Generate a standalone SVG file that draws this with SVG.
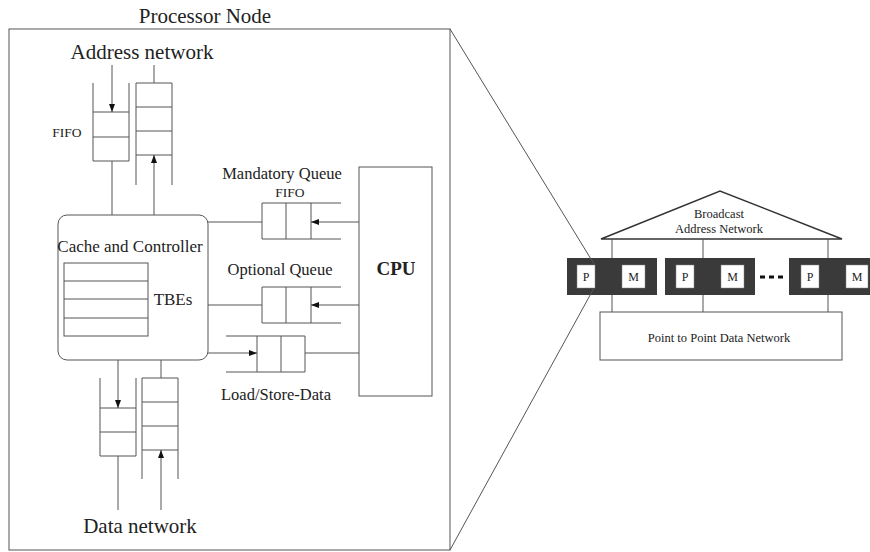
<svg xmlns="http://www.w3.org/2000/svg" width="870" height="552" viewBox="0 0 870 552">
<style>
.ln{stroke:#555;stroke-width:1;fill:none}
.bx{stroke:#555;stroke-width:1;fill:#fff}
.t{font-family:"Liberation Serif","Times New Roman",serif;fill:#222}
.blk{fill:#3a3a3a}
.pm{fill:#fff;stroke:#888;stroke-width:0.5}
</style>
<defs>
<marker id="ah" markerWidth="8" markerHeight="6" refX="8" refY="3" orient="auto" markerUnits="userSpaceOnUse">
<path d="M0,0 L8,3 L0,6 z" fill="#111"/>
</marker>
</defs>
<rect width="870" height="552" fill="#fff"/>

<g id="processor-node">
<rect class="ln" x="9" y="29" width="441" height="521"/>
<text class="t" x="205" y="23" font-size="21" text-anchor="middle">Processor Node</text>
<text class="t" x="142" y="59" font-size="21" text-anchor="middle">Address network</text>
<text class="t" x="140" y="533" font-size="21" text-anchor="middle">Data network</text>
</g>

<g id="addr-in-fifo">
<path class="ln" d="M93,83 V161 H129 V83 M93,112 H129 M93,137 H129"/>
<text class="t" x="67" y="137" font-size="13.5" text-anchor="middle">FIFO</text>
</g>
<g id="addr-out-fifo">
<path class="ln" d="M136,185 V83 H172 V185 M136,107 H172 M136,131 H172 M136,155 H172"/>
</g>

<g id="cache-controller">
<rect class="bx" x="58" y="215" width="150" height="145" rx="9"/>
<text class="t" x="130" y="252" font-size="17" text-anchor="middle">Cache and Controller</text>
<rect class="ln" x="64" y="263" width="84" height="73"/>
<path class="ln" d="M64,281 H148 M64,299 H148 M64,318 H148"/>
<text class="t" x="173" y="305" font-size="17" text-anchor="middle">TBEs</text>
</g>

<g id="mandatory-queue">
<path class="ln" d="M341,203 H262 V239 H341 M286,203 V239 M311,203 V239"/>
<text class="t" x="282" y="179" font-size="16.5" text-anchor="middle">Mandatory Queue</text>
<text class="t" x="290" y="197" font-size="13.5" text-anchor="middle">FIFO</text>
</g>

<g id="optional-queue">
<path class="ln" d="M341,287 H262 V323 H341 M286,287 V323 M311,287 V323"/>
<text class="t" x="280" y="275" font-size="16.5" text-anchor="middle">Optional Queue</text>
</g>

<g id="load-store-queue">
<path class="ln" d="M226,336 H305 V372 H226 M257,336 V372 M281,336 V372"/>
<text class="t" x="276" y="400" font-size="16.5" text-anchor="middle">Load/Store-Data</text>
</g>

<g id="cpu">
<rect class="bx" x="359" y="167" width="73" height="229"/>
<text class="t" x="396" y="275" font-size="19" font-weight="bold" text-anchor="middle">CPU</text>
</g>

<g id="data-in-fifo">
<path class="ln" d="M100,378 V456 H136 V378 M100,408 H136 M100,432 H136"/>
</g>
<g id="data-out-fifo">
<path class="ln" d="M142,479 V378 H178 V479 M142,402 H178 M142,426 H178 M142,450 H178"/>
</g>

<g id="system">
<path d="M601,239 L720,191 L842,239 Z" fill="#fff" stroke="#333" stroke-width="1.5"/>
<text class="t" x="719" y="218" font-size="12.5" text-anchor="middle">Broadcast</text>
<text class="t" x="719" y="233" font-size="12.5" text-anchor="middle">Address Network</text>
<g id="node1">
<rect class="blk" x="567" y="258" width="90" height="37"/>
<rect class="pm" x="577" y="265" width="18" height="23"/>
<text class="t" x="586" y="281" font-size="12" text-anchor="middle">P</text>
<rect class="pm" x="622" y="265" width="23" height="23"/>
<text class="t" x="633.5" y="281" font-size="12" text-anchor="middle">M</text>
</g>
<g id="node2">
<rect class="blk" x="665" y="258" width="90" height="37"/>
<rect class="pm" x="676" y="265" width="18" height="23"/>
<text class="t" x="685" y="281" font-size="12" text-anchor="middle">P</text>
<rect class="pm" x="721" y="265" width="23" height="23"/>
<text class="t" x="732.5" y="281" font-size="12" text-anchor="middle">M</text>
</g>
<path d="M760,277 H784" stroke="#111" stroke-width="3" stroke-dasharray="5,4"/>
<g id="node3">
<rect class="blk" x="789" y="258" width="90" height="37"/>
<rect class="pm" x="801" y="265" width="18" height="23"/>
<text class="t" x="810" y="281" font-size="12" text-anchor="middle">P</text>
<rect class="pm" x="846" y="265" width="22" height="23"/>
<text class="t" x="857" y="281" font-size="12" text-anchor="middle">M</text>
</g>
<g id="data-net">
<rect class="bx" x="600" y="312" width="242" height="48"/>
<text class="t" x="719" y="342" font-size="12.5" text-anchor="middle">Point to Point Data Network</text>
</g>
</g>

<g id="connectors">
<line class="ln" x1="112" y1="65" x2="112" y2="112" marker-end="url(#ah)"/>
<line class="ln" x1="154" y1="65" x2="154" y2="83"/>
<line class="ln" x1="112" y1="161" x2="112" y2="215"/>
<line class="ln" x1="154" y1="215" x2="154" y2="155" marker-end="url(#ah)"/>
<line class="ln" x1="208" y1="222" x2="262" y2="222"/>
<line class="ln" x1="359" y1="222" x2="311" y2="222" marker-end="url(#ah)"/>
<line class="ln" x1="208" y1="305" x2="262" y2="305"/>
<line class="ln" x1="359" y1="305" x2="311" y2="305" marker-end="url(#ah)"/>
<line class="ln" x1="208" y1="353" x2="257" y2="353" marker-end="url(#ah)"/>
<line class="ln" x1="305" y1="353" x2="359" y2="353"/>
<line class="ln" x1="118" y1="360" x2="118" y2="408" marker-end="url(#ah)"/>
<line class="ln" x1="161" y1="360" x2="161" y2="378"/>
<line class="ln" x1="118" y1="456" x2="118" y2="510"/>
<line class="ln" x1="161" y1="510" x2="161" y2="450" marker-end="url(#ah)"/>
<line class="ln" x1="450" y1="29" x2="594" y2="264"/>
<line class="ln" x1="450" y1="550" x2="594" y2="288"/>
<line class="ln" x1="612" y1="239" x2="612" y2="258"/>
<line class="ln" x1="703" y1="239" x2="703" y2="258"/>
<line class="ln" x1="828" y1="239" x2="828" y2="258"/>
<line class="ln" x1="612" y1="295" x2="612" y2="312"/>
<line class="ln" x1="703" y1="295" x2="703" y2="312"/>
<line class="ln" x1="828" y1="295" x2="828" y2="312"/>
</g>
</svg>
